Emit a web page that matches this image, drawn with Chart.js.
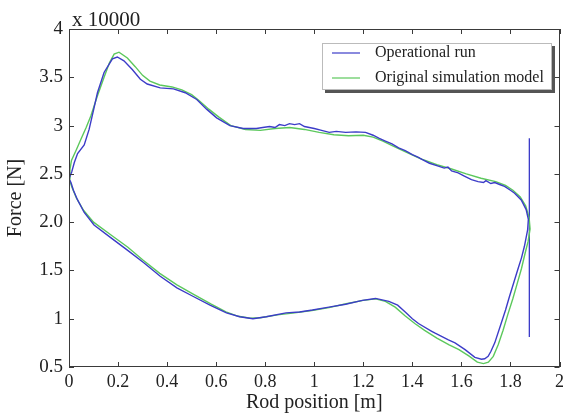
<!DOCTYPE html>
<html>
<head>
<meta charset="utf-8">
<script src="https://cdn.jsdelivr.net/npm/chart.js@4"></script>
<style>
  html, body { margin: 0; padding: 0; background: #fff; }
  #wrap { width: 568px; height: 417px; }
</style>
</head>
<body>
<div id="wrap"><canvas id="card"></canvas></div>
<script>
// values, force in units of 10000 N
const seriesNames = ['Operational run', 'Original simulation model'];

const opRun = [
  [0.0, 2.45], [0.011, 2.52], [0.022, 2.62], [0.035, 2.71], [0.062, 2.80], [0.082, 2.96],
  [0.1, 3.16], [0.116, 3.34], [0.143, 3.55], [0.177, 3.69], [0.197, 3.71], [0.224, 3.67],
  [0.258, 3.58], [0.291, 3.48], [0.319, 3.43], [0.372, 3.39], [0.426, 3.38], [0.474, 3.34],
  [0.521, 3.27], [0.561, 3.17], [0.602, 3.08], [0.656, 3.00], [0.71, 2.97], [0.764, 2.97],
  [0.79, 2.98], [0.818, 2.99], [0.84, 2.98], [0.858, 3.01], [0.88, 3.00], [0.899, 3.02],
  [0.92, 3.01], [0.94, 3.02], [0.96, 2.99], [0.98, 2.98], [1.0, 2.97], [1.03, 2.95],
  [1.061, 2.93], [1.09, 2.94], [1.128, 2.93], [1.17, 2.935], [1.209, 2.93], [1.24, 2.90],
  [1.263, 2.87], [1.29, 2.84], [1.317, 2.81], [1.344, 2.77], [1.371, 2.74], [1.40, 2.70],
  [1.425, 2.67], [1.439, 2.65], [1.47, 2.61], [1.506, 2.58], [1.53, 2.56], [1.545, 2.57],
  [1.56, 2.53], [1.587, 2.51], [1.61, 2.48], [1.641, 2.44], [1.668, 2.42], [1.69, 2.41],
  [1.70, 2.43], [1.72, 2.40], [1.736, 2.41], [1.756, 2.39], [1.776, 2.37], [1.80, 2.33],
  [1.817, 2.30], [1.844, 2.23], [1.864, 2.13], [1.873, 2.03], [1.87, 1.92], [1.857, 1.75],
  [1.845, 1.63], [1.83, 1.51], [1.813, 1.37], [1.796, 1.23], [1.78, 1.09], [1.762, 0.95],
  [1.736, 0.75], [1.72, 0.66], [1.709, 0.61], [1.695, 0.585], [1.682, 0.58], [1.655, 0.60],
  [1.615, 0.68], [1.574, 0.75], [1.547, 0.78], [1.493, 0.85], [1.479, 0.87], [1.425, 0.95],
  [1.40, 1.00], [1.371, 1.07], [1.34, 1.14], [1.304, 1.18], [1.25, 1.21], [1.196, 1.19],
  [1.128, 1.15], [1.06, 1.12], [0.993, 1.09], [0.94, 1.07], [0.885, 1.06], [0.804, 1.02],
  [0.75, 1.00], [0.696, 1.02], [0.642, 1.06], [0.575, 1.14], [0.507, 1.23], [0.44, 1.32],
  [0.372, 1.44], [0.305, 1.58], [0.238, 1.71], [0.17, 1.84], [0.102, 1.97], [0.062, 2.10],
  [0.035, 2.23], [0.018, 2.33], [0.008, 2.41], [0.0, 2.45]
];

const simModel = [
  [0.0, 2.45], [0.004, 2.55], [0.01, 2.64], [0.03, 2.75], [0.049, 2.86], [0.07, 2.98],
  [0.089, 3.10], [0.115, 3.30], [0.143, 3.50], [0.165, 3.65], [0.184, 3.74], [0.204, 3.76],
  [0.238, 3.70], [0.27, 3.61], [0.30, 3.52], [0.33, 3.46], [0.37, 3.42], [0.42, 3.40],
  [0.46, 3.37], [0.50, 3.32], [0.53, 3.26], [0.57, 3.17], [0.61, 3.09], [0.66, 3.00],
  [0.72, 2.96], [0.78, 2.95], [0.84, 2.97], [0.90, 2.98], [0.96, 2.96], [1.02, 2.93],
  [1.08, 2.905], [1.14, 2.895], [1.20, 2.90], [1.24, 2.88], [1.28, 2.84], [1.32, 2.79],
  [1.37, 2.73], [1.43, 2.66], [1.50, 2.595], [1.56, 2.55], [1.62, 2.50], [1.68, 2.455],
  [1.74, 2.42], [1.78, 2.38], [1.81, 2.33], [1.84, 2.26], [1.862, 2.17], [1.876, 2.05],
  [1.88, 1.93], [1.872, 1.80], [1.86, 1.68], [1.845, 1.52], [1.826, 1.35], [1.81, 1.21],
  [1.79, 1.05], [1.77, 0.88], [1.75, 0.73], [1.73, 0.61], [1.71, 0.55], [1.69, 0.535],
  [1.665, 0.55], [1.63, 0.615], [1.59, 0.68], [1.55, 0.73], [1.50, 0.80], [1.45, 0.88],
  [1.41, 0.95], [1.37, 1.03], [1.33, 1.12], [1.29, 1.18], [1.25, 1.205], [1.20, 1.19],
  [1.13, 1.155], [1.06, 1.115], [0.99, 1.085], [0.92, 1.06], [0.85, 1.04], [0.78, 1.01],
  [0.74, 1.005], [0.69, 1.025], [0.64, 1.07], [0.58, 1.15], [0.51, 1.25], [0.44, 1.35],
  [0.37, 1.47], [0.30, 1.61], [0.24, 1.74], [0.17, 1.87], [0.10, 2.00], [0.06, 2.12],
  [0.03, 2.25], [0.012, 2.36], [0.0, 2.45]
];

// stroke end markers of the operational run
const strokeEndRight = [[1.877, 2.87], [1.877, 0.81]];
const strokeEndLeft = [[0.0, 2.87], [0.0, 1.5]];

const xTickLabels = ['0', '0.2', '0.4', '0.6', '0.8', '1', '1.2', '1.4', '1.6', '1.8', '2'];
const yTickLabels = ['0.5', '1', '1.5', '2.0', '2.5', '3', '3.5', '4'];

const BLUE = '#3c3cc8';
const GREEN = '#5cc85c';
const AXIS = '#3a3a3a';
const SERIF = '"Liberation Serif", "DejaVu Serif", serif';

function toXY(pairs) {
    return pairs.map(function (p) { return { x: p[0], y: p[1] }; });
}

// MATLAB style box with inward ticks, the "x 10000" factor and the legend
const matlabFrame = {
    id: 'matlabFrame',
    afterDatasetsDraw: function (chart) {
        const ctx = chart.ctx;
        const a = chart.chartArea;
        const xs = chart.scales.x;
        const ys = chart.scales.y;
        ctx.save();
        ctx.strokeStyle = AXIS;
        ctx.lineWidth = 1;
        ctx.strokeRect(Math.round(a.left) + 0.5, Math.round(a.top) + 0.5,
            Math.round(a.right - a.left) - 1, Math.round(a.bottom - a.top) - 1);
        ctx.beginPath();
        xs.ticks.forEach(function (t) {
            const px = Math.round(xs.getPixelForValue(t.value)) + 0.5;
            ctx.moveTo(px, a.bottom); ctx.lineTo(px, a.bottom - 5);
            ctx.moveTo(px, a.top); ctx.lineTo(px, a.top + 5);
        });
        ys.ticks.forEach(function (t) {
            const py = Math.round(ys.getPixelForValue(t.value)) + 0.5;
            ctx.moveTo(a.left, py); ctx.lineTo(a.left + 5, py);
            ctx.moveTo(a.right, py); ctx.lineTo(a.right - 5, py);
        });
        ctx.stroke();

        // scale factor
        ctx.fillStyle = '#222';
        ctx.font = '21px ' + SERIF;
        ctx.textAlign = 'left';
        ctx.textBaseline = 'alphabetic';
        ctx.fillText('x 10000', a.left + 3, a.top - 3);

        // legend box with shadow
        const bx = 322, by = 43, bw = 230, bh = 47;
        ctx.fillStyle = '#555';
        ctx.fillRect(bx + 3, by + 3, bw, bh);
        ctx.fillStyle = '#fff';
        ctx.fillRect(bx, by, bw, bh);
        ctx.strokeStyle = '#bbb';
        ctx.strokeRect(bx + 0.5, by + 0.5, bw - 1, bh - 1);
        ctx.font = '16px ' + SERIF;
        ctx.textBaseline = 'middle';
        chart.data.datasets.slice(0, 2).forEach(function (ds, i) {
            const ly = by + 10 + i * 25;
            ctx.strokeStyle = ds.borderColor;
            ctx.lineWidth = 1.2;
            ctx.beginPath();
            ctx.moveTo(bx + 10, ly); ctx.lineTo(bx + 38, ly);
            ctx.stroke();
            ctx.fillStyle = '#222';
            ctx.fillText(ds.label, bx + 53, ly);
        });
        ctx.restore();
    }
};

new Chart(document.getElementById('card'), {
    type: 'scatter',
    data: {
        datasets: [{
            label: seriesNames[0],
            data: toXY(opRun),
            borderColor: BLUE,
            borderWidth: 1.4,
            showLine: true,
            pointRadius: 0,
            tension: 0
        }, {
            label: seriesNames[1],
            data: toXY(simModel),
            borderColor: GREEN,
            borderWidth: 1.4,
            showLine: true,
            pointRadius: 0,
            tension: 0
        }, {
            label: 'right end',
            data: toXY(strokeEndRight),
            borderColor: BLUE,
            borderWidth: 1.3,
            showLine: true,
            pointRadius: 0
        }, {
            label: 'left end',
            data: toXY(strokeEndLeft),
            borderColor: BLUE,
            borderWidth: 1.3,
            showLine: true,
            pointRadius: 0
        }]
    },
    options: {
        responsive: true,
        maintainAspectRatio: false,
        animation: false,
        layout: { padding: { top: 29, right: 6, left: 0, bottom: 0 } },
        plugins: {
            legend: { display: false },
            tooltip: { enabled: false }
        },
        scales: {
            x: {
                type: 'linear',
                min: 0,
                max: 2,
                grid: { display: false, drawTicks: false },
                border: { display: false },
                ticks: {
                    stepSize: 0.2,
                    padding: 4,
                    color: '#222',
                    font: { family: SERIF, size: 18 },
                    maxRotation: 0,
                    callback: function (value, index) { return xTickLabels[index]; }
                },
                title: {
                    display: true,
                    text: 'Rod position [m]',
                    color: '#222',
                    font: { family: SERIF, size: 20 },
                    padding: { top: 0, bottom: 2 }
                },
                afterFit: function (scale) { scale.height = 50; }
            },
            y: {
                type: 'linear',
                min: 0.5,
                max: 4,
                grid: { display: false, drawTicks: false },
                border: { display: false },
                ticks: {
                    stepSize: 0.5,
                    padding: 6,
                    color: '#222',
                    font: { family: SERIF, size: 19 },
                    callback: function (value, index) { return yTickLabels[index]; }
                },
                title: {
                    display: true,
                    text: 'Force [N]',
                    color: '#222',
                    font: { family: SERIF, size: 20 },
                    padding: { top: 4, bottom: 0 }
                },
                afterFit: function (scale) { scale.width = 69; }
            }
        }
    },
    plugins: [matlabFrame]
});
</script>
</body>
</html>
